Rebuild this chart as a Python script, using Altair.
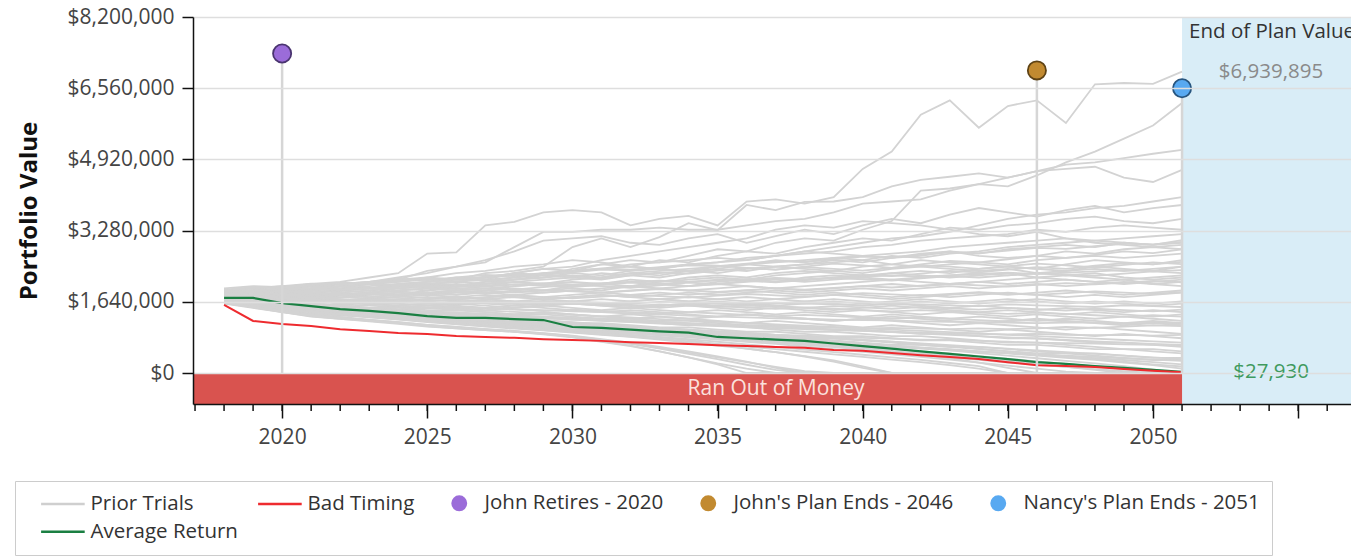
import altair as alt
import pandas as pd
import numpy as np

# ---------------- data ----------------
years = list(range(2018, 2052))

# Prior trials, values in $ thousands, one value per year 2018..2051
trials = {
    "U1": [1950, 2000, 1980, 2050, 2100, 2200, 2300, 2750, 2780, 3400, 3480, 3700, 3750, 3700, 3400, 3550, 3620, 3400, 3950, 4000, 3900, 4050, 4700, 5100, 5950, 6280, 5650, 6150, 6280, 5760, 6650, 6680, 6660, 6940],
    "U2": [1850, 1900, 1850, 1950, 2000, 1950, 2050, 2100, 2200, 2150, 2300, 2400, 2350, 2500, 2600, 2550, 2700, 2850, 2800, 3000, 3100, 3050, 3300, 3500, 4200, 4250, 4350, 4300, 4550, 4850, 5100, 5400, 5700, 6220],
    "U3": [1850, 1900, 1950, 2000, 2050, 2100, 2200, 2300, 2450, 2550, 2900, 3250, 3250, 3300, 3300, 3350, 3300, 3300, 3400, 3500, 3550, 3700, 3900, 3950, 4000, 4200, 4350, 4500, 4650, 4800, 4850, 4950, 5050, 5140],
    "U4": [1900, 1950, 1900, 2000, 1950, 2050, 2150, 2200, 2150, 2300, 2350, 2450, 2900, 3100, 2900, 3130, 3450, 3290, 3870, 3750, 3940, 3950, 4050, 4300, 4450, 4520, 4600, 4500, 4650, 4700, 4750, 4500, 4400, 4680],
    "U5": [1900, 1950, 1900, 1950, 2050, 2100, 2150, 2350, 2450, 2600, 2800, 3050, 3100, 3150, 3000, 2950, 3100, 3200, 3000, 3150, 3300, 3200, 3400, 3550, 3450, 3650, 3800, 3700, 3600, 3750, 3850, 3700, 3800, 3870],
    "U6": [1800, 1850, 1800, 1850, 1900, 1950, 2000, 2050, 2100, 2200, 2300, 2250, 2400, 2500, 2450, 2600, 2550, 2700, 2800, 2750, 2900, 3000, 3100, 3050, 3200, 3350, 3300, 3400, 3450, 3550, 3600, 3500, 3450, 3550],
    "U7": [1850, 1900, 1950, 1900, 2000, 2050, 2100, 2150, 2100, 2200, 2300, 2400, 2450, 2600, 2700, 2800, 2900, 3000, 3100, 3300, 3400, 3350, 3500, 3450, 3400, 3300, 3200, 3150, 3250, 3100, 3050, 3000, 2950, 3060],
    "U8": [1800, 1850, 1900, 1850, 1900, 1950, 2000, 2050, 2000, 2100, 2150, 2200, 2300, 2250, 2350, 2400, 2500, 2550, 2650, 2700, 2800, 2900, 3000, 3100, 3150, 3250, 3400, 3550, 3650, 3700, 3800, 3850, 3950, 4050],
    "M1": [1800, 1850, 1800, 1850, 1900, 1850, 1950, 2000, 2050, 2000, 2100, 2150, 2200, 2150, 2250, 2300, 2350, 2300, 2400, 2450, 2500, 2550, 2600, 2700, 2650, 2750, 2800, 2900, 2950, 3000, 3050, 3100, 3150, 3200],
    "M2": [1750, 1800, 1850, 1800, 1850, 1900, 1950, 1900, 2000, 2050, 2100, 2050, 2150, 2200, 2300, 2250, 2350, 2400, 2350, 2450, 2500, 2600, 2550, 2650, 2700, 2800, 2750, 2850, 2900, 2950, 2900, 3000, 2950, 3000],
    "M3": [1850, 1900, 1850, 1900, 1950, 2000, 2050, 2100, 2150, 2200, 2250, 2300, 2350, 2400, 2500, 2550, 2600, 2650, 2600, 2700, 2800, 2750, 2700, 2650, 2750, 2800, 2700, 2650, 2700, 2800, 2750, 2850, 2900, 2850],
    "M4": [1700, 1750, 1700, 1750, 1800, 1750, 1800, 1850, 1800, 1900, 1950, 1900, 2000, 2050, 2000, 2100, 2150, 2200, 2150, 2250, 2300, 2350, 2300, 2400, 2450, 2500, 2550, 2500, 2600, 2650, 2700, 2650, 2700, 2750],
    "M5": [1800, 1750, 1800, 1850, 1800, 1850, 1900, 1950, 2000, 2100, 2150, 2250, 2200, 2300, 2250, 2200, 2300, 2400, 2500, 2450, 2400, 2350, 2450, 2500, 2600, 2550, 2500, 2450, 2400, 2500, 2600, 2550, 2500, 2600],
    "M6": [1750, 1800, 1750, 1800, 1750, 1800, 1850, 1800, 1850, 1900, 1850, 1900, 1950, 1900, 2000, 2050, 2000, 2100, 2150, 2100, 2200, 2250, 2200, 2300, 2350, 2300, 2400, 2450, 2400, 2350, 2450, 2400, 2350, 2450],
    "M7": [1900, 1950, 2000, 1950, 2000, 2050, 2100, 2200, 2300, 2350, 2450, 2500, 2600, 2550, 2450, 2400, 2350, 2450, 2500, 2600, 2550, 2650, 2600, 2500, 2450, 2400, 2350, 2400, 2300, 2250, 2300, 2200, 2150, 2200],
    "M8": [1850, 1800, 1850, 1900, 1950, 1900, 2000, 2050, 2100, 2050, 2150, 2200, 2250, 2200, 2300, 2350, 2400, 2450, 2500, 2550, 2600, 2650, 2700, 2750, 2800, 2900, 2950, 3000, 3050, 3100, 3000, 2950, 2900, 2950],
    "M9": [1700, 1750, 1800, 1750, 1800, 1850, 1800, 1900, 1950, 1900, 2000, 2050, 2100, 2050, 2150, 2100, 2200, 2250, 2200, 2300, 2350, 2300, 2250, 2300, 2250, 2200, 2250, 2300, 2200, 2150, 2100, 2150, 2050, 2000],
    "M10": [1800, 1850, 1800, 1850, 1900, 1950, 2000, 2050, 2100, 2150, 2200, 2300, 2350, 2400, 2450, 2400, 2500, 2550, 2600, 2700, 2750, 2800, 2900, 2950, 3050, 3100, 3150, 3200, 3300, 3250, 3350, 3400, 3350, 3300],
    "G1": [1850, 1900, 1880, 1950, 1990, 2050, 2020, 2100, 2150, 2120, 2200, 2260, 2230, 2180, 2250, 2320, 2290, 2360, 2420, 2380, 2450, 2520, 2480, 2420, 2500, 2580, 2550, 2620, 2700, 2650, 2720, 2800, 2760, 2850],
    "G2": [1780, 1760, 1800, 1830, 1790, 1850, 1880, 1840, 1900, 1950, 1920, 1980, 2030, 2000, 1960, 2020, 2080, 2050, 2120, 2180, 2140, 2200, 2260, 2230, 2290, 2350, 2320, 2380, 2440, 2400, 2470, 2530, 2500, 2560],
    "G3": [1900, 1950, 2000, 2060, 2030, 2100, 2170, 2140, 2200, 2260, 2230, 2290, 2350, 2410, 2380, 2440, 2500, 2470, 2420, 2380, 2440, 2400, 2360, 2420, 2480, 2450, 2400, 2460, 2520, 2480, 2430, 2490, 2550, 2510],
    "G4": [1720, 1700, 1740, 1710, 1680, 1720, 1760, 1730, 1700, 1740, 1780, 1750, 1720, 1760, 1800, 1770, 1740, 1780, 1820, 1790, 1760, 1800, 1840, 1810, 1780, 1820, 1860, 1830, 1800, 1840, 1880, 1850, 1820, 1860],
    "G5": [1680, 1650, 1620, 1660, 1630, 1600, 1640, 1610, 1580, 1620, 1590, 1560, 1600, 1570, 1540, 1580, 1550, 1520, 1560, 1530, 1500, 1540, 1510, 1480, 1520, 1490, 1460, 1500, 1470, 1440, 1480, 1450, 1420, 1460],
    "G6": [1870, 1850, 1900, 1940, 1910, 1960, 2000, 1970, 1940, 1990, 2040, 2010, 1980, 2030, 2080, 2050, 2100, 2150, 2120, 2090, 2140, 2190, 2160, 2130, 2180, 2230, 2200, 2250, 2300, 2270, 2240, 2290, 2340, 2300],
    "G7": [1760, 1790, 1760, 1800, 1840, 1810, 1780, 1820, 1860, 1830, 1870, 1910, 1880, 1850, 1890, 1930, 1900, 1870, 1910, 1950, 1920, 1960, 2000, 1970, 2010, 2050, 2020, 1990, 2030, 2070, 2040, 2080, 2120, 2090],
    "G8": [1640, 1610, 1580, 1550, 1580, 1550, 1520, 1490, 1520, 1490, 1460, 1430, 1460, 1430, 1400, 1370, 1400, 1370, 1340, 1310, 1340, 1310, 1280, 1250, 1280, 1250, 1220, 1190, 1220, 1190, 1160, 1130, 1160, 1130],
    "G9": [1920, 1980, 1960, 2020, 2080, 2060, 2120, 2180, 2160, 2220, 2280, 2260, 2320, 2380, 2360, 2420, 2480, 2460, 2520, 2580, 2560, 2620, 2680, 2660, 2720, 2780, 2760, 2820, 2880, 2860, 2920, 2980, 2960, 3020],
    "G10": [1700, 1680, 1660, 1700, 1680, 1660, 1640, 1680, 1660, 1640, 1620, 1660, 1640, 1620, 1600, 1640, 1620, 1600, 1580, 1620, 1600, 1580, 1560, 1600, 1580, 1560, 1540, 1580, 1560, 1540, 1520, 1560, 1540, 1520],
    "G11": [1810, 1780, 1750, 1720, 1750, 1720, 1690, 1660, 1690, 1660, 1630, 1600, 1630, 1600, 1570, 1540, 1570, 1540, 1510, 1480, 1510, 1480, 1450, 1420, 1450, 1420, 1390, 1360, 1390, 1360, 1330, 1300, 1330, 1300],
    "G12": [1860, 1890, 1920, 1950, 1920, 1950, 1980, 2010, 1980, 2010, 2040, 2070, 2040, 2070, 2100, 2130, 2100, 2130, 2160, 2190, 2160, 2190, 2220, 2250, 2220, 2250, 2280, 2310, 2280, 2310, 2340, 2370, 2340, 2370],
    "B1": [1700, 1700, 1650, 1700, 1650, 1700, 1650, 1700, 1750, 1700, 1750, 1700, 1750, 1800, 1750, 1800, 1850, 1800, 1850, 1900, 1850, 1900, 1950, 1900, 1950, 2000, 1950, 2000, 2050, 2000, 2050, 2100, 2050, 2100],
    "B2": [1650, 1600, 1650, 1600, 1650, 1600, 1550, 1600, 1650, 1600, 1550, 1600, 1650, 1700, 1650, 1700, 1750, 1700, 1650, 1700, 1750, 1800, 1750, 1700, 1750, 1800, 1850, 1800, 1850, 1900, 1850, 1800, 1850, 1900],
    "B3": [1600, 1550, 1500, 1550, 1500, 1450, 1500, 1550, 1500, 1450, 1500, 1550, 1600, 1550, 1500, 1550, 1600, 1650, 1600, 1550, 1600, 1650, 1600, 1650, 1700, 1650, 1600, 1650, 1700, 1650, 1600, 1650, 1600, 1650],
    "B4": [1750, 1700, 1750, 1700, 1650, 1700, 1750, 1800, 1750, 1700, 1650, 1600, 1650, 1600, 1550, 1500, 1550, 1500, 1450, 1500, 1450, 1400, 1450, 1400, 1350, 1400, 1350, 1300, 1350, 1300, 1250, 1300, 1250, 1200],
    "B5": [1600, 1540, 1480, 1420, 1450, 1400, 1350, 1400, 1350, 1300, 1350, 1400, 1350, 1300, 1350, 1300, 1250, 1300, 1350, 1300, 1250, 1200, 1250, 1300, 1250, 1200, 1150, 1200, 1250, 1200, 1150, 1100, 1150, 1100],
    "B6": [1800, 1850, 1800, 1750, 1800, 1850, 1800, 1850, 1900, 1850, 1800, 1850, 1900, 1950, 2000, 1950, 2000, 2050, 2000, 1950, 2000, 2050, 2100, 2150, 2100, 2050, 2100, 2150, 2200, 2250, 2200, 2150, 2200, 2250],
    "B7": [1650, 1650, 1600, 1550, 1500, 1500, 1450, 1400, 1400, 1350, 1300, 1300, 1250, 1250, 1200, 1150, 1100, 1100, 1050, 1000, 950, 950, 900, 850, 850, 800, 750, 700, 700, 650, 600, 550, 550, 500],
    "B8": [1700, 1650, 1700, 1650, 1600, 1650, 1600, 1550, 1600, 1550, 1500, 1550, 1500, 1450, 1500, 1450, 1400, 1450, 1400, 1350, 1400, 1350, 1300, 1350, 1300, 1250, 1300, 1250, 1200, 1250, 1200, 1150, 1200, 1150],
    "B9": [1620, 1520, 1440, 1370, 1320, 1300, 1250, 1200, 1200, 1150, 1100, 1100, 1050, 1000, 1000, 950, 900, 900, 850, 800, 800, 750, 700, 650, 650, 600, 550, 500, 450, 450, 400, 350, 300, 300],
    "B10": [1850, 1800, 1850, 1900, 1850, 1800, 1850, 1800, 1750, 1800, 1750, 1700, 1750, 1800, 1750, 1700, 1650, 1700, 1750, 1700, 1650, 1700, 1650, 1600, 1650, 1600, 1650, 1700, 1650, 1600, 1650, 1600, 1550, 1600],
    "B11": [1600, 1600, 1550, 1500, 1550, 1500, 1450, 1500, 1450, 1400, 1350, 1400, 1350, 1300, 1250, 1300, 1250, 1200, 1150, 1200, 1150, 1100, 1050, 1100, 1050, 1000, 950, 1000, 950, 900, 850, 900, 850, 800],
    "B12": [1750, 1750, 1700, 1750, 1800, 1750, 1800, 1850, 1800, 1850, 1900, 1850, 1900, 1850, 1900, 1950, 1900, 1950, 2000, 1950, 1900, 1950, 2000, 2050, 2000, 2050, 2100, 2050, 2100, 2150, 2100, 2050, 2100, 2150],
    "B13": [1640, 1560, 1500, 1450, 1400, 1400, 1350, 1300, 1300, 1250, 1250, 1200, 1150, 1150, 1100, 1050, 1050, 1000, 950, 950, 900, 850, 850, 800, 750, 750, 700, 650, 650, 600, 550, 550, 500, 450],
    "B14": [1650, 1700, 1650, 1600, 1650, 1700, 1650, 1700, 1750, 1700, 1650, 1700, 1650, 1600, 1650, 1700, 1650, 1600, 1550, 1600, 1650, 1600, 1550, 1600, 1550, 1500, 1550, 1500, 1450, 1500, 1450, 1400, 1450, 1400],
    "B15": [1800, 1750, 1700, 1750, 1700, 1650, 1700, 1650, 1600, 1650, 1600, 1550, 1600, 1550, 1500, 1550, 1600, 1550, 1500, 1550, 1500, 1450, 1500, 1550, 1500, 1450, 1400, 1450, 1400, 1350, 1400, 1350, 1300, 1350],
    "B16": [1600, 1650, 1600, 1650, 1700, 1650, 1700, 1750, 1700, 1750, 1800, 1750, 1800, 1850, 1800, 1850, 1800, 1850, 1900, 1850, 1800, 1850, 1800, 1750, 1800, 1750, 1800, 1850, 1800, 1750, 1800, 1750, 1800, 1850],
    "B17": [1700, 1650, 1600, 1600, 1550, 1500, 1500, 1450, 1450, 1400, 1350, 1350, 1300, 1250, 1250, 1200, 1200, 1150, 1100, 1100, 1050, 1000, 1000, 950, 900, 900, 850, 800, 800, 750, 700, 700, 650, 600],
    "B18": [1900, 1850, 1900, 1850, 1800, 1850, 1900, 1950, 1900, 1950, 2000, 2050, 2000, 2050, 2100, 2050, 2000, 2050, 2100, 2150, 2100, 2150, 2200, 2150, 2200, 2250, 2300, 2250, 2300, 2350, 2400, 2350, 2400, 2450],
    "B19": [1610, 1530, 1450, 1400, 1350, 1350, 1300, 1250, 1200, 1200, 1150, 1150, 1100, 1050, 1050, 1000, 950, 900, 900, 850, 800, 800, 750, 700, 650, 600, 600, 550, 500, 450, 450, 400, 350, 350],
    "B20": [1750, 1700, 1650, 1700, 1650, 1600, 1650, 1600, 1550, 1500, 1550, 1500, 1450, 1400, 1450, 1400, 1350, 1300, 1350, 1300, 1250, 1200, 1250, 1200, 1150, 1100, 1150, 1100, 1050, 1000, 1050, 1000, 950, 900],
    "E1": [1700, 1650, 1600, 1560, 1520, 1480, 1450, 1410, 1370, 1340, 1300, 1270, 1230, 1200, 1170, 1140, 1110, 1080, 1060, 1030, 1010, 990, 970, 950, 930, 910, 900, 890, 900, 880, 870, 880, 860, 880],
    "E2": [1650, 1580, 1500, 1440, 1390, 1340, 1300, 1260, 1220, 1180, 1140, 1100, 1060, 1020, 980, 940, 900, 860, 820, 780, 740, 700, 660, 620, 580, 540, 500, 460, 420, 380, 340, 300, 250, 200],
    "E3": [1720, 1640, 1580, 1520, 1470, 1410, 1360, 1310, 1260, 1210, 1160, 1110, 1060, 1010, 960, 910, 870, 830, 790, 750, 710, 670, 630, 600, 560, 520, 490, 460, 430, 400, 370, 340, 310, 280],
    "E4": [1680, 1630, 1590, 1550, 1510, 1480, 1450, 1420, 1390, 1360, 1330, 1300, 1270, 1240, 1210, 1180, 1150, 1120, 1090, 1060, 1030, 1000, 970, 940, 910, 880, 850, 820, 790, 760, 730, 700, 670, 650],
    "E5": [1660, 1590, 1520, 1460, 1410, 1360, 1310, 1270, 1230, 1190, 1150, 1110, 1070, 1030, 990, 950, 910, 870, 830, 790, 750, 710, 670, 630, 590, 550, 500, 450, 400, 350, 300, 240, 180, 100],
    "E6": [1700, 1640, 1580, 1530, 1480, 1440, 1400, 1360, 1320, 1280, 1240, 1200, 1160, 1120, 1080, 1040, 1000, 960, 920, 880, 840, 800, 760, 720, 680, 640, 600, 560, 520, 480, 440, 400, 360, 320],
    "E7": [1800, 1750, 1700, 1660, 1620, 1580, 1550, 1510, 1480, 1440, 1410, 1380, 1340, 1310, 1280, 1240, 1210, 1180, 1150, 1120, 1090, 1060, 1030, 1000, 970, 940, 910, 880, 850, 820, 790, 760, 730, 700],
    "E8": [1640, 1590, 1550, 1510, 1470, 1440, 1410, 1370, 1340, 1310, 1290, 1260, 1230, 1210, 1180, 1160, 1140, 1110, 1090, 1070, 1060, 1040, 1030, 1040, 1020, 1010, 1030, 1010, 1030, 1060, 1040, 1070, 1100, 1080],
    "E9": [1820, 1770, 1720, 1690, 1650, 1620, 1590, 1560, 1530, 1500, 1470, 1450, 1420, 1400, 1370, 1350, 1320, 1300, 1280, 1260, 1250, 1230, 1220, 1210, 1190, 1180, 1170, 1160, 1150, 1160, 1160, 1150, 1150, 1160],
    "E10": [1620, 1560, 1510, 1460, 1420, 1380, 1340, 1300, 1260, 1220, 1190, 1150, 1110, 1080, 1040, 1000, 970, 940, 910, 880, 860, 830, 810, 790, 770, 760, 740, 720, 700, 690, 680, 660, 650, 640],
    "D1": [1600, 1500, 1400, 1300, 1250, 1200, 1150, 1080, 1030, 990, 950, 900, 830, 730, 630, 500, 360, 200, 0, 0, 0, 0, 0, 0, 0, 0, 0, 0, 0, 0, 0, 0, 0, 0],
    "D2": [1650, 1560, 1470, 1400, 1340, 1280, 1230, 1170, 1120, 1070, 1020, 980, 930, 880, 830, 770, 700, 630, 560, 480, 390, 290, 150, 0, 0, 0, 0, 0, 0, 0, 0, 0, 0, 0],
    "D3": [1720, 1650, 1580, 1520, 1460, 1400, 1340, 1290, 1240, 1190, 1150, 1100, 1050, 1000, 960, 920, 870, 820, 770, 720, 670, 620, 570, 510, 430, 340, 240, 120, 0, 0, 0, 0, 0, 0],
    "D4": [1620, 1520, 1420, 1340, 1280, 1220, 1170, 1110, 1060, 1010, 970, 920, 860, 780, 700, 600, 500, 380, 260, 120, 0, 0, 0, 0, 0, 0, 0, 0, 0, 0, 0, 0, 0, 0],
    "D5": [1750, 1680, 1600, 1540, 1480, 1420, 1370, 1320, 1270, 1220, 1170, 1120, 1070, 1020, 970, 920, 870, 820, 770, 720, 660, 600, 540, 480, 420, 360, 300, 240, 190, 140, 90, 40, 0, 0],
    "D6": [1680, 1590, 1500, 1440, 1380, 1330, 1280, 1230, 1180, 1130, 1080, 1030, 980, 930, 880, 830, 780, 720, 660, 600, 540, 480, 420, 360, 300, 230, 160, 0, 0, 0, 0, 0, 0, 0],
    "D7": [1700, 1600, 1520, 1450, 1390, 1330, 1270, 1200, 1150, 1100, 1050, 1000, 960, 920, 870, 820, 760, 660, 560, 480, 380, 260, 120, 0, 0, 0, 0, 0, 0, 0, 0, 0, 0, 0],
    "D8": [1780, 1720, 1650, 1600, 1550, 1500, 1450, 1400, 1350, 1300, 1270, 1220, 1170, 1120, 1080, 1040, 1000, 960, 920, 880, 840, 800, 760, 720, 670, 620, 560, 500, 440, 380, 320, 260, 200, 150],
    "F1": [1610, 1510, 1400, 1310, 1250, 1190, 1130, 1070, 1030, 990, 950, 890, 820, 720, 620, 500, 360, 220, 100, 0, 0, 0, 0, 0, 0, 0, 0, 0, 0, 0, 0, 0, 0, 0],
    "F2": [1660, 1570, 1480, 1410, 1350, 1290, 1240, 1190, 1140, 1090, 1040, 990, 940, 890, 840, 790, 730, 670, 610, 550, 490, 430, 370, 310, 250, 180, 100, 0, 0, 0, 0, 0, 0, 0],
    "F3": [1700, 1620, 1550, 1480, 1420, 1360, 1310, 1260, 1210, 1160, 1110, 1060, 1010, 970, 930, 890, 850, 800, 750, 700, 650, 600, 550, 500, 450, 400, 340, 280, 210, 140, 70, 0, 0, 0],
    "F4": [1630, 1530, 1430, 1350, 1290, 1230, 1170, 1110, 1060, 1010, 960, 910, 850, 770, 680, 580, 470, 360, 250, 140, 40, 0, 0, 0, 0, 0, 0, 0, 0, 0, 0, 0, 0, 0],
    "F5": [1740, 1670, 1600, 1530, 1470, 1410, 1360, 1300, 1250, 1200, 1150, 1100, 1050, 1010, 970, 930, 890, 850, 800, 750, 700, 650, 600, 550, 500, 450, 390, 330, 270, 210, 150, 90, 30, 0],
    "F6": [1690, 1610, 1530, 1460, 1400, 1340, 1290, 1240, 1190, 1140, 1090, 1040, 990, 950, 910, 870, 820, 770, 720, 670, 610, 550, 490, 430, 370, 310, 240, 170, 100, 30, 0, 0, 0, 0],
    "F7": [1620, 1520, 1410, 1330, 1270, 1210, 1150, 1090, 1040, 1000, 960, 900, 840, 760, 670, 560, 440, 320, 190, 70, 0, 0, 0, 0, 0, 0, 0, 0, 0, 0, 0, 0, 0, 0],
    "F8": [1760, 1700, 1640, 1580, 1520, 1470, 1420, 1370, 1320, 1270, 1220, 1170, 1130, 1090, 1050, 1010, 970, 930, 880, 830, 780, 730, 680, 630, 580, 520, 460, 400, 340, 280, 220, 160, 80, 0],
}

average_return = [1730, 1730, 1610, 1540, 1470, 1430, 1380, 1310, 1270, 1270, 1240, 1220, 1060, 1040, 1000, 960, 930, 830, 800, 770, 740, 680, 620, 560, 500, 440, 380, 320, 250, 210, 160, 120, 70, 28]
bad_timing = [1570, 1200, 1130, 1080, 1010, 970, 920, 900, 850, 830, 810, 780, 760, 740, 710, 690, 670, 640, 620, 600, 580, 530, 510, 460, 410, 370, 320, 250, 180, 160, 140, 90, 50, 20]

marker_names = ["John Retires - 2020", "John's Plan Ends - 2046", "Nancy's Plan Ends - 2051"]
marker_years = [2020, 2046, 2051]
marker_values = [7360000, 6970000, 6560000]

end_plan_max = 6939895
end_plan_avg = 27930

legend_names = ["Prior Trials", "Bad Timing", "John Retires - 2020",
                "John's Plan Ends - 2046", "Nancy's Plan Ends - 2051", "Average Return"]

y_ticks = [0, 1640000, 3280000, 4920000, 6560000, 8200000]
x_major = [2020, 2025, 2030, 2035, 2040, 2045, 2050, 2055]
x_minor = list(range(2017, 2057))

X_DOMAIN = [2016.93, 2056.82]
Y_DOMAIN = [-714000, 8200000]
PLAN_END = 2051

# ---------------- styles ----------------
FONT = "Open Sans"
GREY = "#d3d3d3"
RED = "#ee2b2f"
GREEN = "#1a7f42"
marker_fill = ["#9b6cd9", "#c28a30", "#58a9f1"]
marker_stroke = ["#4a3470", "#5e4214", "#27557f"]
LINE_SYM = "M-3.6,0H2.9"
legend_colors = ["#cfcfcf", RED, "#9b6cd9", "#c28a30", "#58a9f1", GREEN]
legend_shapes = [LINE_SYM, LINE_SYM, "circle", "circle", "circle", LINE_SYM]
PLOT_H = 387

# ---------------- frames ----------------
trial_df = pd.DataFrame(
    [{"trial": k, "year": y, "value": v * 1000} for k, vals in trials.items() for y, v in zip(years, vals)]
)
avg_df = pd.DataFrame({"year": years, "value": [v * 1000 for v in average_return]})
bad_df = pd.DataFrame({"year": years, "value": [v * 1000 for v in bad_timing]})
mk_df = pd.DataFrame({"name": marker_names, "year": marker_years, "value": marker_values})

xs = alt.Scale(domain=X_DOMAIN, nice=False, zero=False)
ys = alt.Scale(domain=Y_DOMAIN, nice=False, zero=False)

x_axis = alt.Axis(values=x_major, format="d",
                  labelExpr="datum.value <= 2050 ? datum.label : ''",
                  tickSize=14, tickWidth=1.5, tickColor="#111",
                  domainColor="#111", domainWidth=1.5, grid=False,
                  labelFontSize=21, labelFont=FONT, labelColor="#444",
                  labelPadding=8, title=None, orient="bottom", zindex=1,
                  labelFlush=False, labelOverlap=False)
y_axis = alt.Axis(values=y_ticks, format="$,.0f", grid=True, gridColor="#dedede",
                  gridWidth=1.5, tickSize=11, tickWidth=1.5, tickColor="#111",
                  domainColor="#111", domainWidth=1.5, labelFontSize=21,
                  labelFont=FONT, labelColor="#444", labelPadding=8,
                  labelFlush=False, title="Portfolio Value", titleFont=FONT,
                  titleFontSize=24, titleFontWeight="bold", titleColor="#111",
                  titlePadding=26, zindex=1)


def X(field):
    return alt.X(field, scale=xs)


def Y(field):
    return alt.Y(field, scale=ys)


panel = alt.Chart(pd.DataFrame({"x": [PLAN_END], "x2": [X_DOMAIN[1]],
                                "y": [Y_DOMAIN[0]], "y2": [Y_DOMAIN[1]]})).mark_rect(
    color="#d9edf7").encode(x=X("x:Q"), x2="x2:Q", y=Y("y:Q"), y2="y2:Q")

ran_out = alt.Chart(pd.DataFrame({"x": [X_DOMAIN[0]], "x2": [PLAN_END],
                                  "y": [Y_DOMAIN[0]], "y2": [0]})).mark_rect(
    color="#d9534f").encode(x=X("x:Q"), x2="x2:Q", y=Y("y:Q"), y2="y2:Q")

ran_out_text = alt.Chart(pd.DataFrame({"x": [(X_DOMAIN[0] + PLAN_END) / 2],
                                       "y": [Y_DOMAIN[0] / 2],
                                       "t": ["Ran Out of Money"]})).mark_text(
    align="left", baseline="middle", fontSize=21, font=FONT, color="#fbe1dd").encode(
    x=X("x:Q"), y=Y("y:Q"), text="t:N")

trial_lines = alt.Chart(trial_df).mark_line(color=GREY, strokeWidth=1.8).encode(
    x=alt.X("year:Q", scale=xs, axis=x_axis),
    y=alt.Y("value:Q", scale=ys, axis=y_axis),
    detail="trial:N")

# yearly minor ticks under the x axis
minor_ticks = alt.Chart(pd.DataFrame({"year": x_minor})).mark_rule(
    color="#111", strokeWidth=1.5).encode(
    x=X("year:Q"), y=alt.value(PLOT_H), y2=alt.value(PLOT_H + 7))

avg_line = alt.Chart(avg_df).mark_line(color=GREEN, strokeWidth=2.2).encode(
    x=X("year:Q"), y=Y("value:Q"))
bad_line = alt.Chart(bad_df).mark_line(color=RED, strokeWidth=2).encode(
    x=X("year:Q"), y=Y("value:Q"))

rules = alt.Chart(mk_df).mark_rule(color="#d6d6d6", strokeWidth=2.5).encode(
    x=X("year:Q"), y=Y("value:Q"), y2=alt.datum(0))

marker_layers = []
for i, nm in enumerate(marker_names):
    marker_layers.append(
        alt.Chart(mk_df).transform_filter(alt.datum.name == nm).mark_point(
            filled=True, shape="circle", size=330, fill=marker_fill[i],
            stroke=marker_stroke[i], strokeWidth=1.8, opacity=1).encode(
            x=X("year:Q"), y=Y("value:Q")))

eop_title = alt.Chart(pd.DataFrame({"x": [PLAN_END], "y": [Y_DOMAIN[1]],
                                    "t": ["End of Plan Value"]})).mark_text(
    align="left", baseline="middle", dx=7, dy=15, fontSize=20.5, font=FONT, color="#333").encode(
    x=X("x:Q"), y=Y("y:Q"), text="t:N")

eop_max = alt.Chart(pd.DataFrame({"x": [PLAN_END], "y": [end_plan_max]})).mark_text(
    align="center", baseline="middle", dx=89, fontSize=20.5, font=FONT, color="#8a8a8a").encode(
    x=X("x:Q"), y=Y("y:Q"), text=alt.Text("y:Q", format="$,.0f"))

eop_avg = alt.Chart(pd.DataFrame({"x": [PLAN_END], "y": [end_plan_avg]})).mark_text(
    align="center", baseline="middle", dx=89, fontSize=20.5, font=FONT, color="#3f9a5e").encode(
    x=X("x:Q"), y=Y("y:Q"), text=alt.Text("y:Q", format="$,.0f"))

leg = alt.Legend(orient="none", legendX=-178, legendY=464, direction="horizontal",
                 columns=5, title=None, symbolSize=180, symbolStrokeWidth=2.5,
                 symbolOffset=28, labelOffset=15,
                 labelFontSize=20.5, labelFont=FONT, labelColor="#333",
                 columnPadding=6, rowPadding=6.5, padding=12, strokeColor="#cccccc",
                 fillColor="white", labelLimit=0, symbolOpacity=1)
carrier = alt.Chart(pd.DataFrame({"series": legend_names,
                                  "x": [np.nan] * len(legend_names),
                                  "y": [np.nan] * len(legend_names)})).mark_point(filled=True).encode(
    x=X("x:Q"), y=Y("y:Q"),
    fill=alt.Fill("series:N", scale=alt.Scale(domain=legend_names, range=legend_colors), legend=leg),
    stroke=alt.Stroke("series:N", scale=alt.Scale(domain=legend_names, range=legend_colors), legend=leg),
    shape=alt.Shape("series:N", scale=alt.Scale(domain=legend_names, range=legend_shapes), legend=leg))

chart = alt.layer(
    panel, ran_out, trial_lines, minor_ticks, avg_line, bad_line, rules, *marker_layers,
    ran_out_text, eop_title, eop_max, eop_avg, carrier
).properties(
    width=1158, height=PLOT_H,
    autosize=alt.AutoSizeParams(type="none"),
    padding={"left": 193, "top": 17, "right": 0, "bottom": 154},
).configure(font=FONT).configure_view(strokeWidth=0, strokeOpacity=0)

chart.save("out.html", embed_options={"renderer": "svg", "actions": False})
